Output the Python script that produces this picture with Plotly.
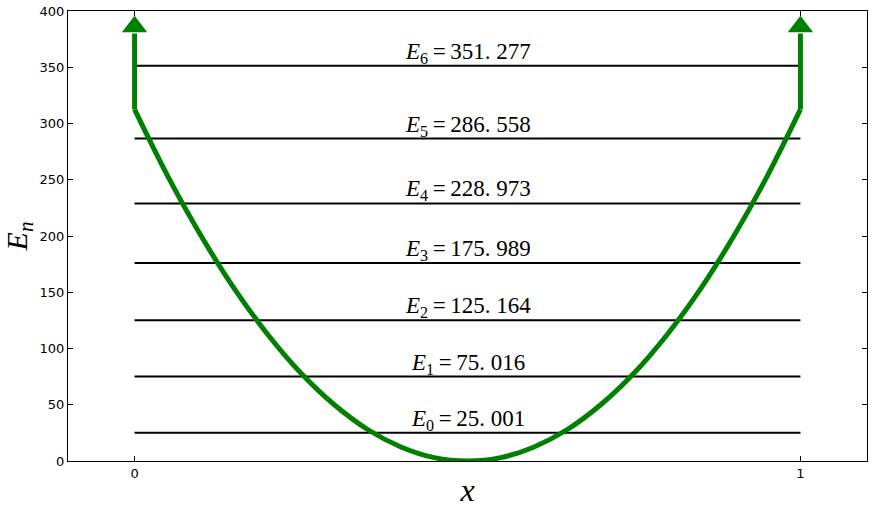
import plotly.graph_objects as go

# potential well
well_x = [0.0, 0.05, 0.1, 0.15, 0.2, 0.25, 0.3, 0.35, 0.4, 0.45, 0.5,
          0.55, 0.6, 0.65, 0.7, 0.75, 0.8, 0.85, 0.9, 0.95, 1.0]
well_v = [312.5, 253, 200, 153, 112.5, 78, 50, 28, 12.5, 3, 0,
          3, 12.5, 28, 50, 78, 112.5, 153, 200, 253, 312.5]

# infinite walls drawn as arrows
wall_x = [0, 1]
wall_bottom = 312.5
wall_top = 380
arrow_tip = 386

levels = [25.001, 75.016, 125.164, 175.989, 228.973, 286.558, 351.277]
level_x = [0, 1]

y_ticks = [0, 50, 100, 150, 200, 250, 300, 350, 400]
x_ticks = [0, 1]

GREEN = 'rgb(0,128,0)'

fig = go.Figure()

for e in levels:
    fig.add_trace(go.Scatter(
        x=level_x, y=[e, e], mode='lines',
        line=dict(color='black', width=2), hoverinfo='skip',
    ))

fig.add_trace(go.Scatter(
    x=well_x, y=well_v,
    mode='lines', line=dict(color=GREEN, width=5, shape='spline', smoothing=1.0),
    hoverinfo='skip',
))
for wx in wall_x:
    fig.add_trace(go.Scatter(
        x=[wx, wx], y=[wall_bottom, wall_top], mode='lines',
        line=dict(color=GREEN, width=5), hoverinfo='skip',
    ))
fig.add_trace(go.Scatter(
    x=wall_x, y=[arrow_tip] * len(wall_x), mode='markers',
    marker=dict(symbol='triangle-up', size=22, color=GREEN, line=dict(width=0)),
    hoverinfo='skip',
))

for n, e in enumerate(levels):
    whole, frac = f'{e:.3f}'.split('.')
    fig.add_annotation(
        x=0.5, y=e, xref='x', yref='y', yanchor='bottom', yshift=-3,
        text=f'<i>E</i><sub>{n}</sub>\u2009=\u2009{whole}. {frac}',
        showarrow=False,
        font=dict(family='Liberation Serif', size=23, color='black'),
    )

axis_common = dict(
    showgrid=False, zeroline=False, showline=True, mirror='allticks',
    linecolor='black', linewidth=1, ticks='inside', ticklen=5,
    tickcolor='black', automargin=False,
    tickfont=dict(family='DejaVu Sans', size=13, color='black'),
)

fig.update_layout(
    width=889, height=508,
    margin=dict(l=68, r=22, t=11, b=47),
    paper_bgcolor='white', plot_bgcolor='white',
    showlegend=False,
    xaxis=dict(range=[-0.1, 1.1], tickvals=x_ticks,
               title=dict(text='<i>x</i>', standoff=2,
                          font=dict(family='Liberation Serif', size=32, color='black')),
               **axis_common),
    yaxis=dict(range=[0, 400], tickvals=y_ticks,
               title=dict(text='<i>E<sub>n</sub></i>', standoff=4,
                          font=dict(family='Liberation Serif', size=30, color='black')),
               **axis_common),
)

# the page's default body margin would shift the figure by 8px
fig.write_html("out.html", config=dict(displayModeBar=False),
               post_script="document.body.style.margin='0';")
